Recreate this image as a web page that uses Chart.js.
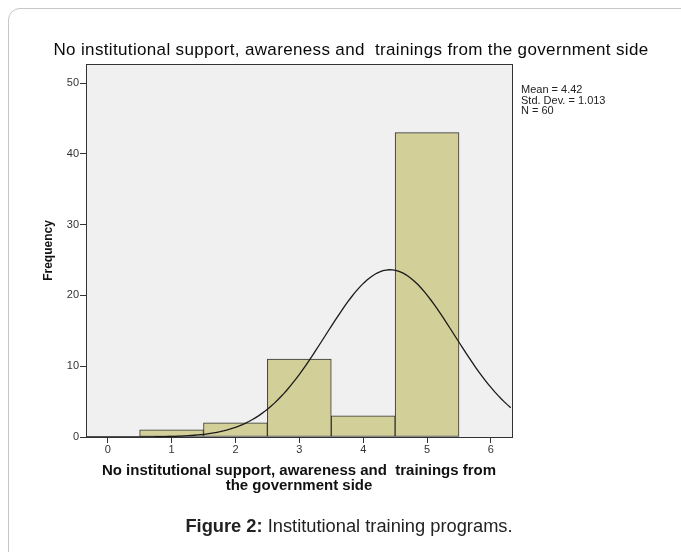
<!DOCTYPE html>
<html>
<head>
<meta charset="utf-8">
<script src="https://cdn.jsdelivr.net/npm/chart.js@4/dist/chart.umd.min.js"></script>
<style>
  body { margin: 0; background: #fff; font-family: Arial, 'Liberation Sans', sans-serif; }
  #wrap { position: relative; width: 681px; height: 552px; overflow: hidden; }
  #frame { position: absolute; left: 8px; top: 8px; width: 700px; height: 600px; border: 1px solid #c6c6c6; border-radius: 12px; }
  #grafico { position: absolute; left: 0; top: 0; }
  #caption { position: absolute; left: 0; width: 698px; top: 515px; text-align: center; font-size: 18.3px; color: #222; }
</style>
</head>
<body>
<div id="wrap">
  <div id="frame"></div>
  <canvas id="grafico" width="681" height="552"></canvas>
  <div id="caption"><b>Figure 2:</b> Institutional training programs.</div>
</div>
<script>
const titulo = 'No institutional support, awareness and  trainings from the government side';
const xTitulo = ['No institutional support, awareness and  trainings from', 'the government side'];
const categorias = [1, 2, 3, 4, 5];
const frequencias = [1, 2, 11, 3, 43];
const xTicks = [0, 1, 2, 3, 4, 5, 6];
const yTicks = [0, 10, 20, 30, 40, 50];
const media = 4.42;
const desvio = 1.013;
const n = 60;
const stats = ['Mean = 4.42', 'Std. Dev. = 1.013', 'N = 60'];

const xMin = -0.34, xMax = 6.33, yMax = 52.7;

// normal curve from the stats shown on the chart
const curva = [];
for (let x = xMin; x <= xMax + 0.001; x += 0.05) {
  const z = (x - media) / desvio;
  curva.push({ x: x, y: n / (desvio * Math.sqrt(2 * Math.PI)) * Math.exp(-0.5 * z * z) });
}

const fonte = "Arial, 'Liberation Sans', sans-serif";

const extras = {
  id: 'extras',
  beforeDraw(chart) {
    const { ctx, chartArea: a } = chart;
    ctx.save();
    ctx.fillStyle = '#f0f0f0';
    ctx.fillRect(a.left, a.top, a.right - a.left, a.bottom - a.top);
    ctx.restore();
  },
  afterDraw(chart) {
    const { ctx, chartArea: a } = chart;
    ctx.save();
    ctx.strokeStyle = '#333';
    ctx.lineWidth = 1;
    ctx.strokeRect(Math.round(a.left) + 0.5, Math.round(a.top) + 0.5, Math.round(a.right - a.left), Math.round(a.bottom - a.top));
    ctx.fillStyle = '#0a0a0a';
    ctx.font = '17px ' + fonte;
    ctx.letterSpacing = '0.35px';
    ctx.textAlign = 'center';
    ctx.textBaseline = 'middle';
    ctx.fillText(titulo, 351, 50);
    ctx.letterSpacing = '0px';
    ctx.font = '11px ' + fonte;
    ctx.textAlign = 'left';
    ctx.fillStyle = '#222';
    stats.forEach((s, i) => ctx.fillText(s, 521, 90 + i * 10.5));
    ctx.restore();
  }
};

const ctx = document.getElementById('grafico').getContext('2d');
new Chart(ctx, {
  data: {
    datasets: [
      {
        type: 'line',
        data: curva,
        borderColor: '#1a1a1a',
        borderWidth: 1.3,
        pointRadius: 0,
        fill: false,
        tension: 0
      },
      {
        type: 'bar',
        data: categorias.map((c, i) => ({ x: c, y: frequencias[i] })),
        backgroundColor: '#d3cf98',
        borderColor: '#333',
        borderWidth: 1,
        borderSkipped: false,
        barPercentage: 1,
        categoryPercentage: 1
      }
    ]
  },
  options: {
    responsive: false,
    animation: false,
    layout: { padding: { left: 41, right: 169, top: 64, bottom: 59 } },
    plugins: { legend: { display: false }, tooltip: { enabled: false } },
    scales: {
      x: {
        type: 'linear',
        offset: false,
        min: xMin,
        max: xMax,
        afterBuildTicks: s => { s.ticks = xTicks.map(v => ({ value: v })); },
        afterFit: s => { s.height = 56; },
        ticks: { color: '#333', font: { family: fonte, size: 11 }, padding: 0, maxRotation: 0 },
        grid: { offset: false, drawOnChartArea: false, tickLength: 6, color: '#333' },
        border: { display: true, color: '#333' },
        title: { display: true, text: xTitulo, color: '#111', font: { family: fonte, size: 15, weight: 'bold', lineHeight: 1.0 }, padding: { top: 4, bottom: 0 } }
      },
      y: {
        min: 0,
        max: yMax,
        afterBuildTicks: s => { s.ticks = yTicks.map(v => ({ value: v })); },
        afterFit: s => { s.width = 45; },
        ticks: { color: '#333', font: { family: fonte, size: 11 }, padding: 1 },
        grid: { drawOnChartArea: false, tickLength: 6, color: '#333' },
        border: { display: true, color: '#333' },
        title: { display: true, text: 'Frequency', color: '#111', font: { family: fonte, size: 12, weight: 'bold' }, padding: 0 }
      }
    }
  },
  plugins: [extras]
});
</script>
</body>
</html>
